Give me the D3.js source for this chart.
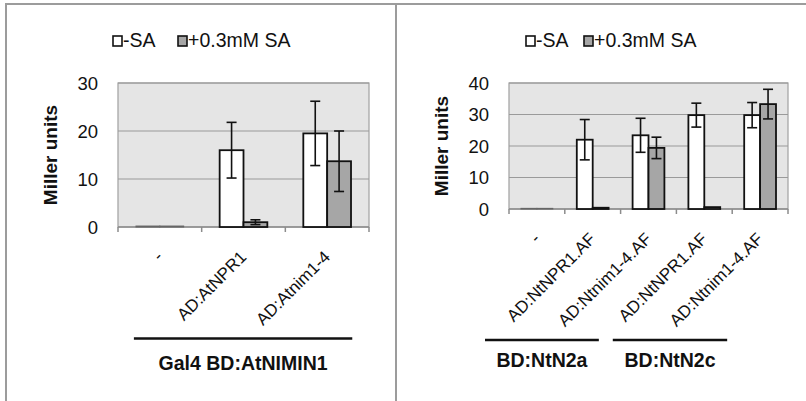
<html>
<head>
<meta charset="utf-8">
<script src="https://d3js.org/d3.v7.min.js"></script>
<style>
  body { margin: 0; background: #fff; }
  text { font-family: "Liberation Sans", Arial, sans-serif; fill: #111; }
</style>
</head>
<body>
<div id="chart"></div>
<script>
// ---- data ----
const seriesNames = ["-SA", "+0.3mM SA"];

const leftCategories = ["-", "AD:AtNPR1", "AD:Atnim1-4"];
const leftNoSA = [0.2, 16.0, 19.5];
const leftNoSAErr = [0, 5.8, 6.7];
const leftSA = [0.2, 1.0, 13.7];
const leftSAErr = [0, 0.5, 6.3];
const leftTicks = [0, 10, 20, 30];
const leftGroups = [{ label: "Gal4 BD:AtNIMIN1", from: 0.19, to: 2.8 }];

const rightCategories = ["-", "AD:NtNPR1.AF", "AD:Ntnim1-4.AF", "AD:NtNPR1.AF", "AD:Ntnim1-4.AF"];
const rightNoSA = [0.2, 22.0, 23.4, 29.8, 29.8];
const rightNoSAErr = [0, 6.4, 5.4, 3.8, 4.0];
const rightSA = [0.2, 0.4, 19.4, 0.6, 33.3];
const rightSAErr = [0, 0, 3.4, 0, 4.7];
const rightTicks = [0, 10, 20, 30, 40];
const rightGroups = [
  { label: "BD:NtN2a", from: -0.43, to: 1.61 },
  { label: "BD:NtN2c", from: 1.86, to: 3.91 }
];

const width = 806, height = 401;
const colors = ["#ffffff", "#a6a6a6"];

const svg = d3.select("#chart").append("svg")
  .attr("width", width)
  .attr("height", height);

// frame lines
svg.append("path")
  .attr("d", "M6,401 V4 H806 M396,4 V401")
  .attr("fill", "none")
  .attr("stroke", "#9c9c9c")
  .attr("stroke-width", 2);

function drawPanel(p) {
  const g = svg.append("g");
  const n = p.categories.length;

  const x = d3.scaleBand()
    .domain(d3.range(n))
    .range([p.x0, p.x1])
    .paddingInner(0.43)
    .paddingOuter(0.215);
  const xs = d3.scaleBand()
    .domain([0, 1])
    .range([0, x.bandwidth()]);
  const xi = d3.scaleLinear().domain([0, n]).range([p.x0, p.x1]);
  const y = d3.scaleLinear().domain([0, p.ticks[p.ticks.length - 1]]).range([p.y1, p.y0]);

  // plot background
  g.append("rect")
    .attr("x", p.x0).attr("y", p.y0)
    .attr("width", p.x1 - p.x0).attr("height", p.y1 - p.y0)
    .attr("fill", "#e5e5e5")
    .attr("stroke", "#a0a0a0")
    .attr("stroke-width", 1.2);

  // gridlines
  g.selectAll(".grid").data(p.ticks.slice(1))
    .enter().append("line")
    .attr("x1", p.x0).attr("x2", p.x1)
    .attr("y1", d => y(d)).attr("y2", d => y(d))
    .attr("stroke", "#9a9a9a")
    .attr("stroke-width", 1.2);

  // y tick labels
  g.selectAll(".ytick").data(p.ticks)
    .enter().append("text")
    .attr("x", p.x0 - 20)
    .attr("y", d => y(d))
    .attr("dy", "0.36em")
    .attr("text-anchor", "end")
    .style("font-size", "18.5px")
    .text(d => d);

  // x axis line and ticks
  g.append("line")
    .attr("x1", p.x0).attr("x2", p.x1)
    .attr("y1", p.y1).attr("y2", p.y1)
    .attr("stroke", "#8c8c8c").attr("stroke-width", 1.5);
  g.selectAll(".xtick").data(d3.range(n + 1))
    .enter().append("line")
    .attr("x1", d => xi(d)).attr("x2", d => xi(d))
    .attr("y1", p.y1).attr("y2", p.y1 + 5)
    .attr("stroke", "#8c8c8c").attr("stroke-width", 1.5);

  // bars
  const values = [p.noSA, p.sa];
  const errs = [p.noSAErr, p.saErr];
  values.forEach((vals, s) => {
    g.selectAll(".bar" + s).data(vals)
      .enter().append("rect")
      .attr("x", (d, i) => x(i) + xs(s))
      .attr("y", d => y(d))
      .attr("width", xs.bandwidth())
      .attr("height", d => p.y1 - y(d))
      .attr("fill", colors[s])
      .attr("stroke", d => d > 0.3 ? "#111" : "#666")
      .attr("stroke-width", d => d > 0.3 ? 1.8 : 1);

    const eb = g.selectAll(".err" + s)
      .data(vals.map((v, i) => ({ v, e: errs[s][i], i })).filter(d => d.e > 0))
      .enter().append("g");
    const cx = d => x(d.i) + xs(s) + xs.bandwidth() / 2;
    eb.append("line")
      .attr("x1", cx).attr("x2", cx)
      .attr("y1", d => y(d.v + d.e)).attr("y2", d => y(d.v - d.e))
      .attr("stroke", "#111").attr("stroke-width", 1.6);
    [1, -1].forEach(sign => {
      eb.append("line")
        .attr("x1", d => cx(d) - 5).attr("x2", d => cx(d) + 5)
        .attr("y1", d => y(d.v + sign * d.e)).attr("y2", d => y(d.v + sign * d.e))
        .attr("stroke", "#111").attr("stroke-width", 1.6);
    });
  });

  // category labels (rotated)
  g.selectAll(".xlab").data(p.categories)
    .enter().append("text")
    .attr("transform", (d, i) => `translate(${x(i) + x.bandwidth() / 2 + 4},${p.y1 + 31}) rotate(-45)`)
    .attr("text-anchor", "end")
    .style("font-size", "17px")
    .text(d => d);

  // y axis title
  g.append("text")
    .attr("transform", `translate(${p.titleX},${(p.y0 + p.y1) / 2}) rotate(-90)`)
    .attr("text-anchor", "middle")
    .style("font-size", "19px")
    .style("font-weight", "bold")
    .text("Miller units");

  // legend
  const lg = g.append("g").attr("transform", `translate(${p.legendX},47)`);
  const legendItems = [{ name: seriesNames[0], dx: 0 }, { name: seriesNames[1], dx: p.legendGap }];
  legendItems.forEach((it, s) => {
    lg.append("rect")
      .attr("x", it.dx + 1).attr("y", -11)
      .attr("width", 9).attr("height", 10)
      .attr("fill", colors[s])
      .attr("stroke", "#111").attr("stroke-width", 1.6);
    lg.append("text")
      .attr("x", it.dx + 11).attr("y", 0)
      .style("font-size", "19.5px")
      .text(it.name);
  });

  // group underlines and labels
  p.groups.forEach(gr => {
    g.append("line")
      .attr("x1", xi(gr.from)).attr("x2", xi(gr.to))
      .attr("y1", p.groupY).attr("y2", p.groupY)
      .attr("stroke", "#111").attr("stroke-width", 2.5);
    g.append("text")
      .attr("x", (xi(gr.from) + xi(gr.to)) / 2)
      .attr("y", p.groupY + p.groupDy)
      .attr("text-anchor", "middle")
      .style("font-size", "19.5px")
      .style("font-weight", "bold")
      .text(gr.label);
  });
}

drawPanel({
  x0: 118, x1: 369, y0: 83, y1: 227,
  categories: leftCategories, noSA: leftNoSA, noSAErr: leftNoSAErr,
  sa: leftSA, saErr: leftSAErr, ticks: leftTicks, groups: leftGroups,
  titleX: 57, legendX: 112, legendGap: 65, groupY: 338.5, groupDy: 31.5
});

drawPanel({
  x0: 509, x1: 788, y0: 83, y1: 209,
  categories: rightCategories, noSA: rightNoSA, noSAErr: rightNoSAErr,
  sa: rightSA, saErr: rightSAErr, ticks: rightTicks, groups: rightGroups,
  titleX: 448, legendX: 525, legendGap: 58, groupY: 340, groupDy: 27
});
</script>
</body>
</html>
